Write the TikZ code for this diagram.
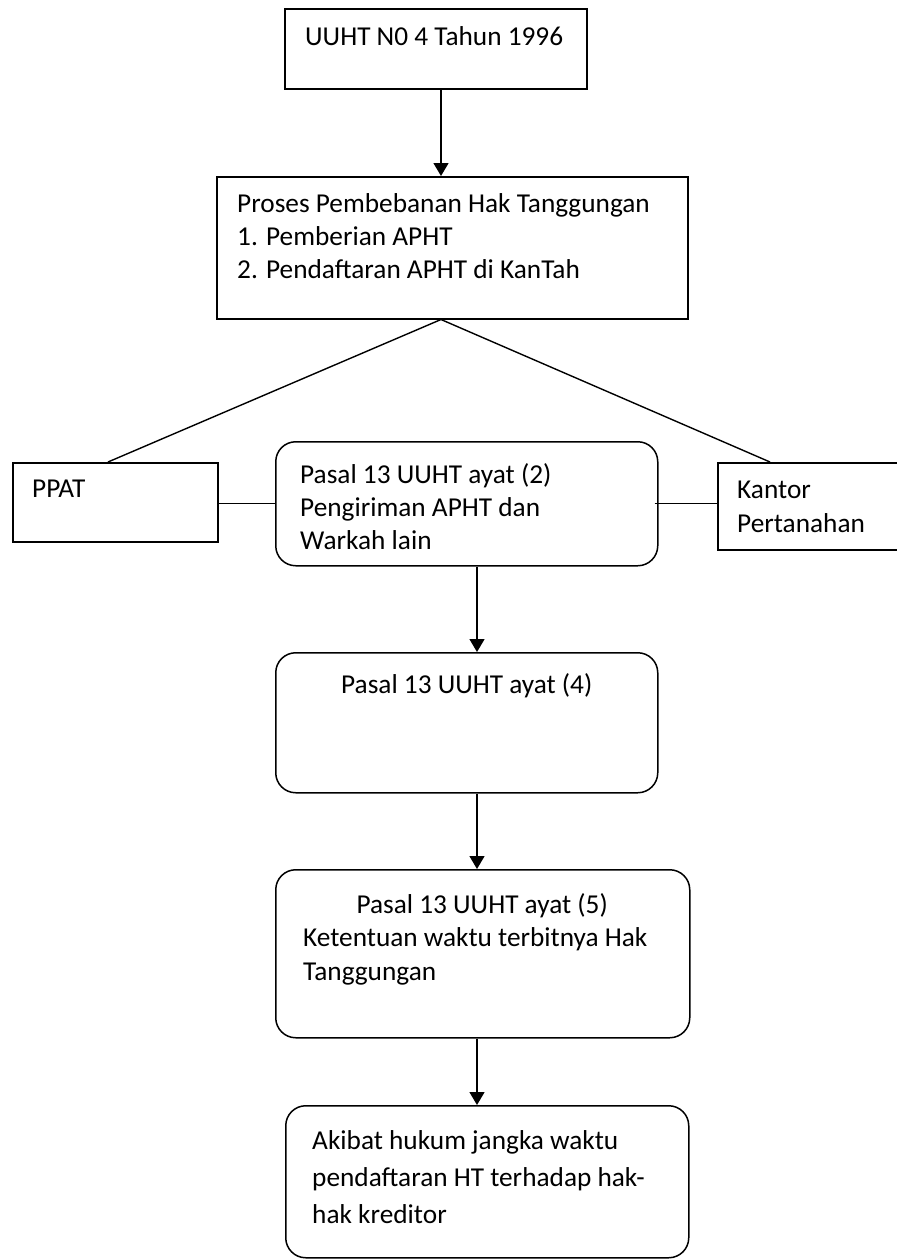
\documentclass[tikz,border=0pt]{standalone}
\usepackage{fontspec}
\setmainfont{Carlito}
\usetikzlibrary{arrows.meta}

\newcommand{\rows}[2]{\parbox[t]{#1}{\raggedright #2}}

\begin{document}
\begin{tikzpicture}[x=1pt,y=-1pt]
	\tikzstyle{box}=[draw, line width=1.5pt, anchor=north west, inner sep=0pt]
	\tikzstyle{rbox}=[box, rounded corners=20pt]
	\tikzstyle{txt}=[anchor=base west, inner sep=0pt, font=\fontsize{27.3}{33}\selectfont]
	\tikzstyle{link}=[line width=1.4pt]
	\tikzstyle{arr}=[link, -{Triangle[width=15pt,length=13pt]}]
	
	\clip (0,0) rectangle (897,1259);
	
	\node[box, minimum width=302pt, minimum height=80pt] (uuht) at (284,8) {};
	\node[box, minimum width=471pt, minimum height=142pt] (proses) at (216,176) {};
	\node[box, minimum width=205pt, minimum height=79pt] (ppat) at (12,462) {};
	\node[rbox, minimum width=382pt, minimum height=124pt] (pasal2) at (275,441) {};
	\node[box, minimum width=200pt, minimum height=87pt] (kantor) at (717,462) {};
	\node[rbox, minimum width=382pt, minimum height=140pt] (pasal4) at (275,652) {};
	\node[rbox, minimum width=414pt, minimum height=168pt] (pasal5) at (275,869) {};
	\node[rbox, minimum width=403pt, minimum height=152pt] (akibat) at (285,1105) {};
	
	\node[txt, xshift=21pt, yshift=-37pt] (uuht-t) at (uuht.north west) {UUHT N0 4 Tahun 1996};
	\node[txt, xshift=21pt, yshift=-36pt] (proses-t) at (proses.north west)
		{\rows{440pt}{Proses Pembebanan Hak Tanggungan\\1. Pemberian APHT\\2. Pendaftaran APHT di KanTah}};
	\node[txt, xshift=20pt, yshift=-35pt] (ppat-t) at (ppat.north west) {PPAT};
	\node[txt, xshift=25pt, yshift=-42pt] (pasal2-t) at (pasal2.north west)
		{\rows{350pt}{Pasal 13 UUHT ayat (2)\\Pengiriman APHT dan\\Warkah lain}};
	\node[txt, font=\fontsize{27.3}{34}\selectfont, xshift=20pt, yshift=-36pt] (kantor-t) at (kantor.north west)
		{\rows{170pt}{Kantor\\Pertanahan}};
	\node[txt, anchor=base, yshift=-41pt] (pasal4-t) at (pasal4.north) {Pasal 13 UUHT ayat (4)};
	\node[txt, font=\fontsize{27.3}{33.5}\selectfont, xshift=28pt, yshift=-44pt] (pasal5-t) at (pasal5.north west)
		{\parbox[t]{358pt}{{\centering Pasal 13 UUHT ayat (5)\par}\raggedright Ketentuan waktu terbitnya Hak\\Tanggungan}};
	\node[txt, font=\fontsize{27.3}{37}\selectfont, xshift=27pt, yshift=-44pt] (akibat-t) at (akibat.north west)
		{\rows{370pt}{Akibat hukum jangka waktu\\pendaftaran HT terhadap hak-\\hak kreditor}};
	
	\coordinate (axis) at (441,0);
	\coordinate (spine) at (477,0);
	
	\draw[arr] (uuht.south -| axis) -- (proses.north -| axis);
	\draw[link] (proses.south -| axis) -- ([xshift=96pt]ppat.north west);
	\draw[link] (proses.south -| axis) -- ([xshift=53pt]kantor.north west);
	\draw[link] (pasal2.west -| ppat.east) -- (pasal2.west);
	\draw[link] ([xshift=-4pt]pasal2.east) -- (pasal2.east -| kantor.west);
	\draw[arr] (pasal2.south -| spine) -- (pasal4.north -| spine);
	\draw[arr] (pasal4.south -| spine) -- (pasal5.north -| spine);
	\draw[arr] (pasal5.south -| spine) -- (akibat.north -| spine);
	
\end{tikzpicture}
\end{document}
